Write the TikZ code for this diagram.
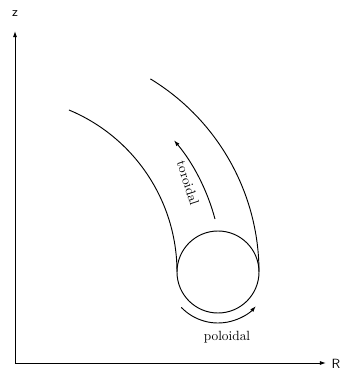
\documentclass[tikz,border=0pt]{standalone}
\usepackage{tikz}
\usetikzlibrary{arrows.meta,calc}
\tikzset{
  wire/.style={line width=0.7pt},
  flow/.style={-{Latex[length=4.5pt,width=3pt]}, line width=0.7pt},
  axlbl/.style={font=\sffamily},
  lbl/.style={font=\normalsize}
}
\begin{document}
\begin{tikzpicture}[x=0.75pt,y=0.75pt]
  \useasboundingbox (0,0) rectangle (343,387);
  % axes
  \coordinate (O) at (15,24);
  \coordinate (ztip) at (15,356);
  \coordinate (Rtip) at (326,24);
  \node[axlbl] (zlbl) at (15,373) {z};
  \node[axlbl] (Rlbl) at (336,23) {R};
  \draw[flow] (O) -- (ztip);
  \draw[flow] (O) -- (Rtip);
  % tube cross-section and its two walls
  \coordinate (c) at (218,115);
  \draw[wire] (c) circle[radius=41];
  \draw[wire] ($(c)+(180:41)$) arc[start angle=0, end angle=67.4, radius=175.5];
  \draw[wire] ($(c)+(0:41)$) arc[start angle=0, end angle=58.7, radius=226];
  % directions
  \draw[flow] ($(c)+(-3,53)$) arc[start angle=15, end angle=40, radius=205];
  \node[lbl, rotate=-72] (tor) at ($(c)+(-30,89)$) {toroidal};
  \draw[flow] ($(c)+(224:51)$) arc[start angle=224, end angle=318, radius=51];
  \node[lbl] (pol) at ($(c)+(9,-65)$) {poloidal};
\end{tikzpicture}
\end{document}
